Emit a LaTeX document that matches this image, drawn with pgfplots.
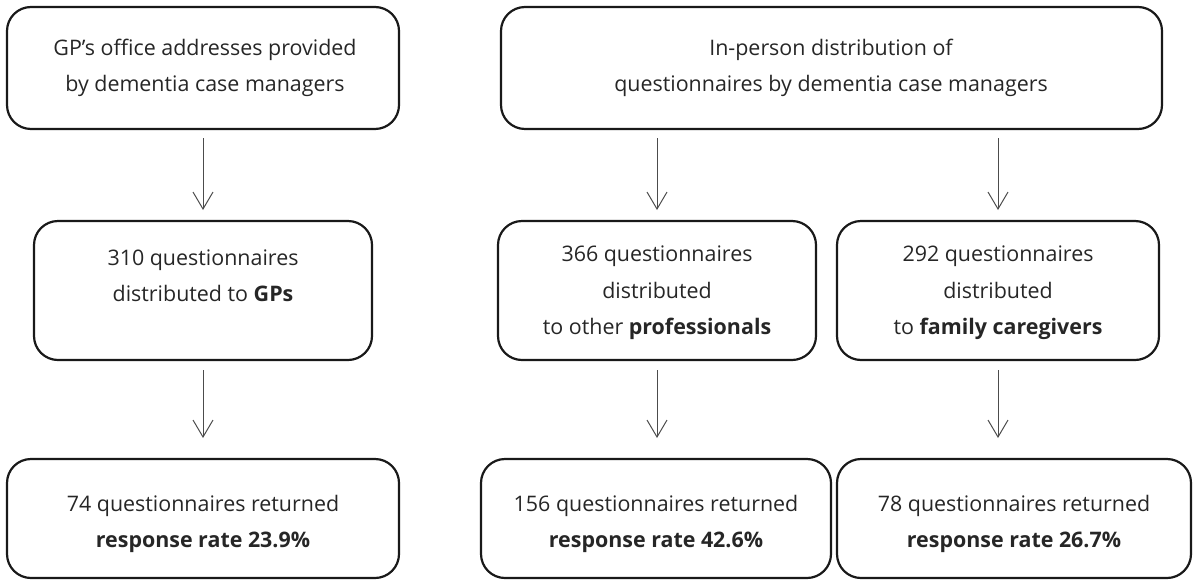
\documentclass[border=0pt]{standalone}
\usepackage{pgfplots}
\pgfplotsset{compat=1.18}
\usepackage{fontspec}
\setmainfont{Open Sans}
\usetikzlibrary{arrows.meta}
\definecolor{txt}{HTML}{262626}
\begin{document}
\begin{tikzpicture}
\begin{axis}[
  width=1196bp, height=581bp, scale only axis,
  xmin=0, xmax=1196, ymin=0, ymax=581, y dir=reverse,
  axis lines=none, clip=false,
  at={(0,0)}, anchor=south west,
]
\addplot[draw=none] coordinates {(0,0) (1196,581)};
\tikzset{bx/.style={draw=black!90, line width=2.2pt, rounded corners=24bp},
         tx/.style={align=center, text=txt, font=\fontsize{21.5}{36.5}\selectfont},
         ar/.style={draw=black!70, line width=1pt, -{Straight Barb[length=17bp, width=20bp, line width=1pt]}}}
% top row
\draw[bx] (axis cs:7,7) rectangle (axis cs:399,129);
\node[tx] at (axis cs:205,68) {GP’s office addresses provided\\by dementia case managers};
\draw[bx] (axis cs:501,7) rectangle (axis cs:1162,129);
\node[tx] at (axis cs:831,68) {In-person distribution of\\questionnaires by dementia case managers};
% middle row
\draw[bx] (axis cs:34,221) rectangle (axis cs:372,360);
\node[tx] at (axis cs:203,276) {310 questionnaires\\distributed to \textbf{GPs}};
\draw[bx] (axis cs:498,221) rectangle (axis cs:816,360);
\node[tx] at (axis cs:657,293) {366 questionnaires\\distributed\\to other \textbf{professionals}};
\draw[bx] (axis cs:837,221) rectangle (axis cs:1159,360);
\node[tx] at (axis cs:998,293) {292 questionnaires\\distributed\\to \textbf{family caregivers}};
% bottom row
\draw[bx] (axis cs:7,459) rectangle (axis cs:399,578);
\node[tx] at (axis cs:203,524) {74 questionnaires returned\\\textbf{response rate 23.9\%}};
\draw[bx] (axis cs:481,459) rectangle (axis cs:831,578);
\node[tx] at (axis cs:656,524) {156 questionnaires returned\\\textbf{response rate 42.6\%}};
\draw[bx] (axis cs:837,459) rectangle (axis cs:1191,578);
\node[tx] at (axis cs:1014,524) {78 questionnaires returned\\\textbf{response rate 26.7\%}};
% arrows
\draw[ar] (axis cs:203,138) -- (axis cs:203,210);
\draw[ar] (axis cs:203,370) -- (axis cs:203,438);
\draw[ar] (axis cs:657,138) -- (axis cs:657,210);
\draw[ar] (axis cs:657,370) -- (axis cs:657,438);
\draw[ar] (axis cs:998,138) -- (axis cs:998,210);
\draw[ar] (axis cs:998,370) -- (axis cs:998,438);
\end{axis}
\pgfresetboundingbox
\useasboundingbox (0,0) rectangle (1196bp,581bp);
\end{tikzpicture}
\end{document}
